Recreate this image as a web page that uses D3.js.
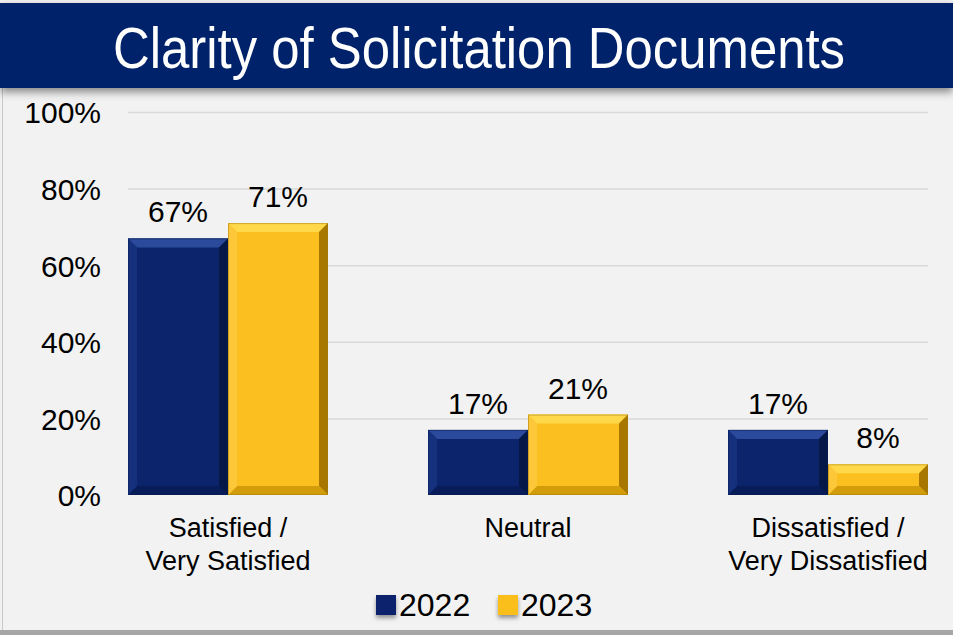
<!DOCTYPE html>
<html>
<head>
<meta charset="utf-8">
<script src="https://cdn.jsdelivr.net/npm/d3@7"></script>
<style>
  body { margin: 0; background: #f2f2f2; }
  svg { display: block; }
</style>
</head>
<body>
<div id="container"></div>
<script>
// chart data
const categories = [['Satisfied /', 'Very Satisfied'], ['Neutral'], ['Dissatisfied /', 'Very Dissatisfied']];
const years = ['2022', '2023'];
const values2022 = [67, 17, 17];
const values2023 = [71, 21, 8];
const yTicks = [0, 20, 40, 60, 80, 100];

const width = 953;
const height = 635;
const padding = { top: 112, right: 25, bottom: 140, left: 128 };
const baseY = 495;
const font = '"Liberation Sans", Arial, sans-serif';

const colors = {
  '2022': { main: '#0b246c', top: '#2c4a9c', left: '#15307c', right: '#051847', bottom: '#071c58', edge: '#0a1c52' },
  '2023': { main: '#fbbf1f', top: '#ffd94a', left: '#fcc83a', right: '#a77700', bottom: '#d39c0a', edge: '#a07a10' }
};

const svg = d3.select('#container').append('svg')
  .attr('width', width)
  .attr('height', height);

const defs = svg.append('defs');
const shadow = defs.append('filter').attr('id', 'shadow').attr('x', '-10%').attr('y', '-50%').attr('width', '120%').attr('height', '250%');
shadow.append('feDropShadow').attr('dx', 0).attr('dy', 4).attr('stdDeviation', 4).attr('flood-color', '#000').attr('flood-opacity', 0.45);
const legShadow = defs.append('filter').attr('id', 'legShadow').attr('x', '-50%').attr('y', '-50%').attr('width', '200%').attr('height', '200%');
legShadow.append('feDropShadow').attr('dx', 0).attr('dy', 3).attr('stdDeviation', 2).attr('flood-color', '#000').attr('flood-opacity', 0.4);

// background and frame
svg.append('rect').attr('x', 0).attr('y', 0).attr('width', width).attr('height', height).attr('fill', '#f2f2f2');
svg.append('line').attr('x1', 2.5).attr('x2', 2.5).attr('y1', 85).attr('y2', 630).attr('stroke', '#c8c8c8').attr('stroke-width', 1);
svg.append('rect').attr('x', 0).attr('y', 630).attr('width', width).attr('height', 5).attr('fill', '#a6a6a6');

// title banner
svg.append('rect')
  .attr('x', 0).attr('y', 3).attr('width', width).attr('height', 85)
  .attr('fill', '#06216a')
  .attr('filter', 'url(#shadow)');
svg.append('text')
  .attr('x', 113).attr('y', 68)
  .attr('fill', '#fff')
  .attr('textLength', 732)
  .attr('lengthAdjust', 'spacingAndGlyphs')
  .style('font-family', font)
  .style('font-size', '58px')
  .text('Clarity of Solicitation Documents');

const x0 = d3.scaleBand()
  .domain(d3.range(categories.length))
  .range([padding.left, padding.left + 800])
  .paddingInner(1 / 3)
  .paddingOuter(0);

const x1 = d3.scaleBand()
  .domain(years)
  .range([0, x0.bandwidth()]);

const y = d3.scaleLinear().domain([0, 100]).range([baseY, padding.top]);

// gridlines
svg.append('g')
  .selectAll('line')
  .data(yTicks.slice(1))
  .enter()
  .append('line')
  .attr('x1', padding.left)
  .attr('x2', 928)
  .attr('y1', d => y(d) + 0.5)
  .attr('y2', d => y(d) + 0.5)
  .attr('stroke', '#d9d9d9')
  .attr('stroke-width', 1.5);

// y axis labels
const yAxis = svg.append('g')
  .attr('transform', 'translate(' + (padding.left - 27) + ',0)')
  .call(d3.axisLeft(y).tickValues(yTicks).tickFormat(d => d + '%').tickSize(0).tickPadding(0));
yAxis.select('.domain').remove();
yAxis.selectAll('text')
  .attr('fill', '#000')
  .attr('dy', '0.36em')
  .style('font-family', font)
  .style('font-size', '30px');

// bars with bevel
const rows = [];
categories.forEach((c, i) => {
  rows.push({ cat: i, year: '2022', value: values2022[i] });
  rows.push({ cat: i, year: '2023', value: values2023[i] });
});

const bev = 9;
const barG = svg.append('g');
rows.forEach(d => {
  const bx = x0(d.cat) + x1(d.year);
  const bw = x1.bandwidth();
  const by = y(d.value);
  const bh = y(0) - by;
  const b = Math.min(bev, bh / 2.5);
  const c = colors[d.year];
  const g = barG.append('g');
  const x2 = bx + bw, y2 = by + bh;
  g.append('rect').attr('x', bx).attr('y', by).attr('width', bw).attr('height', bh).attr('fill', c.main);
  g.append('polygon').attr('points', [[bx, by], [x2, by], [x2 - b, by + b], [bx + b, by + b]].join(' ')).attr('fill', c.top);
  g.append('polygon').attr('points', [[x2, by], [x2, y2], [x2 - b, y2 - b], [x2 - b, by + b]].join(' ')).attr('fill', c.right);
  g.append('polygon').attr('points', [[bx, y2], [x2, y2], [x2 - b, y2 - b], [bx + b, y2 - b]].join(' ')).attr('fill', c.bottom);
  g.append('polygon').attr('points', [[bx, by], [bx + b, by + b], [bx + b, y2 - b], [bx, y2]].join(' ')).attr('fill', c.left);
  g.append('rect').attr('x', bx + 0.5).attr('y', by + 0.5).attr('width', bw - 1).attr('height', bh - 1)
    .attr('fill', 'none').attr('stroke', c.edge).attr('stroke-opacity', 0.5);

  svg.append('text')
    .attr('x', bx + bw / 2)
    .attr('y', by - 16)
    .attr('text-anchor', 'middle')
    .attr('fill', '#000')
    .style('font-family', font)
    .style('font-size', '30px')
    .text(d.value + '%');
});

// category labels
categories.forEach((lines, i) => {
  const cx = x0(i) + x0.bandwidth() / 2;
  const t = svg.append('text')
    .attr('x', cx)
    .attr('y', 537)
    .attr('text-anchor', 'middle')
    .attr('fill', '#000')
    .style('font-family', font)
    .style('font-size', '27px');
  lines.forEach((l, k) => {
    t.append('tspan').attr('x', cx).attr('dy', k === 0 ? 0 : 33).text(l);
  });
});

// legend
const legendX = [376, 498];
years.forEach((yr, i) => {
  svg.append('rect')
    .attr('x', legendX[i]).attr('y', 595).attr('width', 20).attr('height', 20)
    .attr('fill', colors[yr].main)
    .attr('filter', 'url(#legShadow)');
  svg.append('text')
    .attr('x', legendX[i] + 23).attr('y', 616)
    .attr('fill', '#000')
    .style('font-family', font)
    .style('font-size', '32px')
    .text(yr);
});
</script>
</body>
</html>
